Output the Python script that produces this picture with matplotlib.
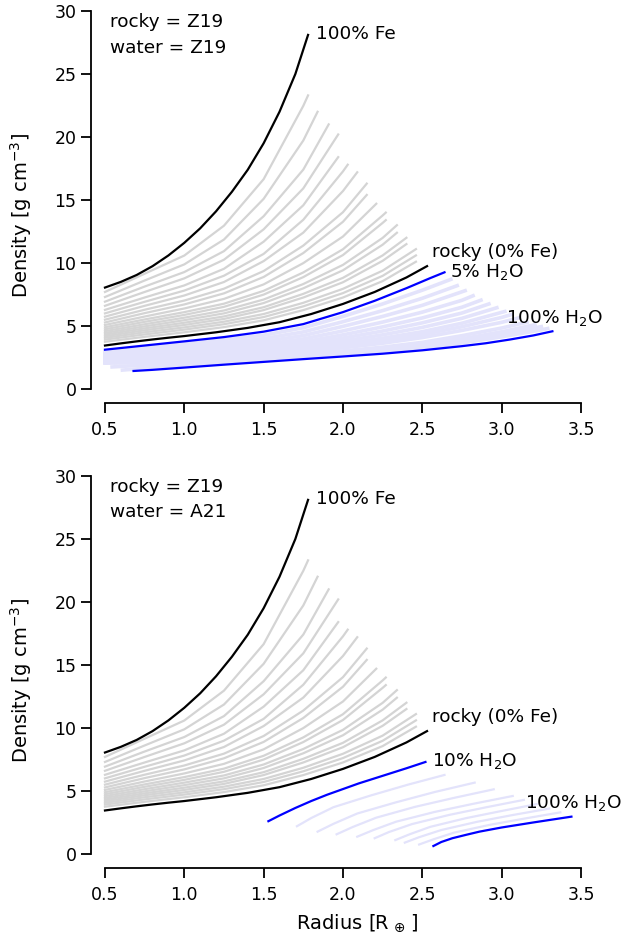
import matplotlib
matplotlib.use('Agg')
import matplotlib.pyplot as plt
import numpy as np

# --- rocky / iron family (Z19), same in both panels ---
fe_r = [0.5, 0.6, 0.7, 0.8, 0.9, 1.0, 1.1, 1.2, 1.3, 1.4, 1.5, 1.6, 1.7, 1.78]
fe_rho = [8.05, 8.5, 9.05, 9.75, 10.6, 11.6, 12.75, 14.1, 15.65, 17.4,
          19.5, 22.0, 25.0, 28.1]

rocky_r = [0.5, 0.6, 0.7, 0.8, 0.9, 1.0, 1.2, 1.4, 1.6, 1.8, 2.0, 2.2, 2.4, 2.53]
rocky_rho = [3.45, 3.62, 3.78, 3.93, 4.07, 4.2, 4.5, 4.85, 5.3, 5.95, 6.75,
             7.7, 8.85, 9.75]

# intermediate iron fractions (95% ... 5% Fe)
gray_start = [7.7, 7.3, 6.93, 6.6, 6.28, 6.0, 5.74, 5.5, 5.28, 5.08,
              4.9, 4.74, 4.59, 4.45, 4.32, 4.19, 4.06, 3.92, 3.75]
gray_nodes = [0.75, 1.0, 1.25, 1.5, 1.75, 2.0, 2.25]
gray_table = [
    [9.15, 10.59, 12.96, 16.65, 22.47, None, None],
    [8.61, 9.89, 11.86, 15.09, 19.72, None, None],
    [8.13, 9.28, 10.94, 13.71, 17.41, None, None],
    [7.70, 8.78, 10.26, 12.67, 15.92, None, None],
    [7.26, 8.22, 9.54, 11.69, 14.58, None, None],
    [6.92, 7.81, 8.99, 10.72, 13.43, 17.27, None],
    [6.60, 7.42, 8.49, 10.15, 12.41, 15.71, None],
    [6.29, 7.02, 7.96, 9.36, 11.38, 14.03, None],
    [6.02, 6.71, 7.59, 8.89, 10.79, 13.27, None],
    [5.75, 6.39, 7.15, 8.30, 9.99, 12.10, None],
    [5.52, 6.10, 6.77, 7.79, 9.25, 11.09, 13.77],
    [5.33, 5.88, 6.52, 7.49, 8.88, 10.63, 13.18],
    [5.14, 5.66, 6.23, 7.10, 8.33, 9.85, 11.99],
    [4.97, 5.46, 6.00, 6.82, 7.99, 9.42, 11.45],
    [4.81, 5.26, 5.76, 6.49, 7.55, 8.82, 10.60],
    [4.66, 5.08, 5.56, 6.26, 7.26, 8.47, 10.17],
    [4.50, 4.89, 5.34, 5.95, 6.84, 7.95, 9.39],
    [4.33, 4.71, 5.14, 5.71, 6.56, 7.61, 8.98],
    [4.14, 4.50, 4.91, 5.45, 6.26, 7.26, 8.56],
]
gray_end_r = [1.78, 1.84, 1.91, 1.97, 1.97, 2.03, 2.09, 2.15, 2.15, 2.21,
              2.27, 2.27, 2.34, 2.34, 2.40, 2.40, 2.46, 2.46, 2.46]
gray_end_rho = [23.3, 22.0, 21.0, 20.2, 18.4, 17.8, 17.2, 16.3, 15.4, 14.7,
                14.0, 13.4, 13.0, 12.4, 12.0, 11.5, 11.1, 10.6, 10.1]

# --- water family, top panel (Z19) ---
w5_r = [0.5, 0.75, 1.0, 1.25, 1.5, 1.75, 2.0, 2.2, 2.4, 2.55, 2.64]
w5_rho = [3.12, 3.45, 3.78, 4.12, 4.55, 5.15, 6.1, 7.0, 8.0, 8.8, 9.26]

w100_r = [0.68, 0.8, 1.0, 1.25, 1.5, 1.75, 2.0, 2.25, 2.5, 2.75, 2.9, 3.05,
          3.2, 3.32]
w100_rho = [1.43, 1.52, 1.7, 1.93, 2.15, 2.37, 2.58, 2.8, 3.07, 3.4, 3.63,
            3.92, 4.25, 4.58]

mix_start_r = [0.5] * 12 + [0.545, 0.61]
mix_start_rho = [2.98, 2.84, 2.72, 2.61, 2.51, 2.42, 2.35, 2.28, 2.23, 2.17,
                 2.09, 2.05, 1.75, 1.5]
mix_nodes = [1.0, 1.5, 1.75, 2.0, 2.25, 2.5, 2.75, 3.0, 3.25]
mix_table = [
    [3.58, 4.27, 4.86, 5.76, 6.75, 7.84, None, None, None],
    [3.37, 4.00, 4.53, 5.34, 6.22, 7.20, None, None, None],
    [3.18, 3.76, 4.24, 4.97, 5.76, 6.64, None, None, None],
    [3.00, 3.53, 3.97, 4.61, 5.31, 6.10, 7.04, None, None],
    [2.85, 3.33, 3.73, 4.30, 4.93, 5.64, 6.49, None, None],
    [2.72, 3.17, 3.53, 4.04, 4.60, 5.25, 6.03, None, None],
    [2.60, 3.01, 3.34, 3.80, 4.30, 4.89, 5.61, None, None],
    [2.48, 2.87, 3.17, 3.58, 4.03, 4.55, 5.22, None, None],
    [2.41, 2.77, 3.05, 3.43, 3.83, 4.32, 4.94, 5.68, None],
    [2.33, 2.67, 2.92, 3.27, 3.63, 4.08, 4.65, 5.29, None],
    [2.20, 2.51, 2.73, 3.02, 3.32, 3.70, 4.23, 4.84, None],
    [2.13, 2.42, 2.63, 2.88, 3.15, 3.50, 3.98, 4.54, None],
    [2.08, 2.36, 2.55, 2.78, 3.03, 3.35, 3.81, 4.34, None],
    [1.90, 2.30, 2.48, 2.70, 2.92, 3.22, 3.65, 4.14, 4.69],
]
mix_end_r = [2.68, 2.72, 2.77, 2.82, 2.87, 2.92, 2.97, 3.02, 3.06, 3.11,
             3.16, 3.21, 3.25, 3.29]
mix_end_rho = [8.7, 8.2, 7.8, 7.4, 7.05, 6.75, 6.45, 6.15, 5.9, 5.65,
               5.3, 5.1, 4.95, 4.8]

# --- water family, bottom panel (A21) ---
a10_r = [1.53, 1.6, 1.7, 1.8, 1.9, 2.0, 2.1, 2.25, 2.4, 2.52]
a10_rho = [2.6, 3.05, 3.65, 4.2, 4.7, 5.15, 5.6, 6.2, 6.8, 7.3]

a100_r = [2.57, 2.62, 2.69, 2.78, 2.86, 3.0, 3.1, 3.2, 3.32, 3.44]
a100_rho = [0.63, 0.95, 1.25, 1.53, 1.77, 2.1, 2.3, 2.5, 2.73, 2.96]

a_mix_r = [
    [1.71, 1.80, 1.94, 2.175, 2.41, 2.64],
    [1.84, 1.94, 2.09, 2.335, 2.58, 2.83],
    [1.96, 2.06, 2.21, 2.455, 2.70, 2.95],
    [2.09, 2.19, 2.335, 2.58, 2.825, 3.07],
    [2.20, 2.29, 2.435, 2.67, 2.905, 3.14],
    [2.33, 2.42, 2.55, 2.775, 3.0, 3.22],
    [2.39, 2.48, 2.62, 2.845, 3.07, 3.30],
    [2.48, 2.57, 2.70, 2.925, 3.15, 3.37],
]
a_mix_rho = [
    [2.2, 2.85, 3.71, 4.64, 5.50, 6.27],
    [1.77, 2.39, 3.21, 4.10, 4.92, 5.66],
    [1.56, 2.13, 2.88, 3.74, 4.45, 5.13],
    [1.37, 1.89, 2.56, 3.34, 3.99, 4.6],
    [1.25, 1.74, 2.37, 3.10, 3.71, 4.29],
    [1.1, 1.56, 2.15, 2.84, 3.41, 3.95],
    [0.9, 1.33, 1.90, 2.55, 3.09, 3.6],
    [0.75, 1.16, 1.69, 2.31, 2.82, 3.3],
]

GRAY = '#d4d4d4'
LAV = '#e3e3fb'
FS = 13.3


def table_curve(r0, rho0, nodes, row, r1, rho1):
    rr = [r0] + [n for n, v in zip(nodes, row) if v is not None] + [r1]
    yy = [rho0] + [v for v in row if v is not None] + [rho1]
    return rr, yy


def rocky_family(ax):
    for i in range(len(gray_start)):
        rr, yy = table_curve(0.5, gray_start[i], gray_nodes, gray_table[i],
                             gray_end_r[i], gray_end_rho[i])
        ax.plot(rr, yy, c=GRAY, lw=1.6, zorder=1, clip_on=False)
    ax.plot(fe_r, fe_rho, c='k', lw=1.6, zorder=3, clip_on=False)
    ax.plot(rocky_r, rocky_rho, c='k', lw=1.6, zorder=3, clip_on=False)
    ax.text(1.83, 28.2, '100% Fe', fontsize=FS, va='center')
    ax.text(2.56, 10.9, 'rocky (0% Fe)', fontsize=FS, va='center')


def style(ax, rocky_name, water_name):
    ax.set_xlim(0.5, 3.5)
    ax.set_ylim(0, 30)
    for s in ['top', 'right']:
        ax.spines[s].set_visible(False)
    for s in ['left', 'bottom']:
        ax.spines[s].set_position(('outward', 10))
        ax.spines[s].set_linewidth(1.3)
    ax.spines['left'].set_bounds(0, 30)
    ax.spines['bottom'].set_bounds(0.5, 3.5)
    ax.set_xticks(np.arange(0.5, 3.51, 0.5))
    ax.set_yticks(np.arange(0, 31, 5))
    ax.tick_params(length=7, width=1.3, labelsize=12.5)
    ax.tick_params(axis='x', pad=6)
    ax.set_ylabel(r'Density [g cm$^{-3}$]', fontsize=14)
    ax.yaxis.set_label_coords(-0.15, 0.46)
    ax.text(0.53, 29.1, f'rocky = {rocky_name}', fontsize=FS, va='center')
    ax.text(0.53, 27.1, f'water = {water_name}', fontsize=FS, va='center')


fig = plt.figure(figsize=(6.23, 9.46), dpi=100)
ax1 = fig.add_axes([0.1685, 0.5888, 0.764, 0.3996])
ax2 = fig.add_axes([0.1685, 0.0973, 0.764, 0.3996])

# top panel
rocky_family(ax1)
for i in range(len(mix_start_r)):
    rr, yy = table_curve(mix_start_r[i], mix_start_rho[i], mix_nodes, mix_table[i],
                         mix_end_r[i], mix_end_rho[i])
    ax1.plot(rr, yy, c=LAV, lw=2.6, zorder=1, clip_on=False)
ax1.plot(w5_r, w5_rho, c='b', lw=1.6, zorder=3, clip_on=False)
ax1.plot(w100_r, w100_rho, c='b', lw=1.6, zorder=3)
ax1.text(2.674, 9.3, r'5% H$_2$O', fontsize=FS, va='center')
ax1.text(3.027, 5.65, r'100% H$_2$O', fontsize=FS, va='center')
style(ax1, 'Z19', 'Z19')

# bottom panel
rocky_family(ax2)
for rr, yy in zip(a_mix_r, a_mix_rho):
    ax2.plot(rr, yy, c=LAV, lw=1.6, zorder=1)
ax2.plot(a10_r, a10_rho, c='b', lw=1.6, zorder=3)
ax2.plot(a100_r, a100_rho, c='b', lw=1.6, zorder=3)
ax2.text(2.56, 7.4, r'10% H$_2$O', fontsize=FS, va='center')
ax2.text(3.15, 4.05, r'100% H$_2$O', fontsize=FS, va='center')
style(ax2, 'Z19', 'A21')
ax2.set_xlabel(r'Radius [R$_{\,\oplus\,}$]', fontsize=14)
ax2.xaxis.set_label_coords(0.529, -0.155)

fig.savefig('out.png', dpi=100)
